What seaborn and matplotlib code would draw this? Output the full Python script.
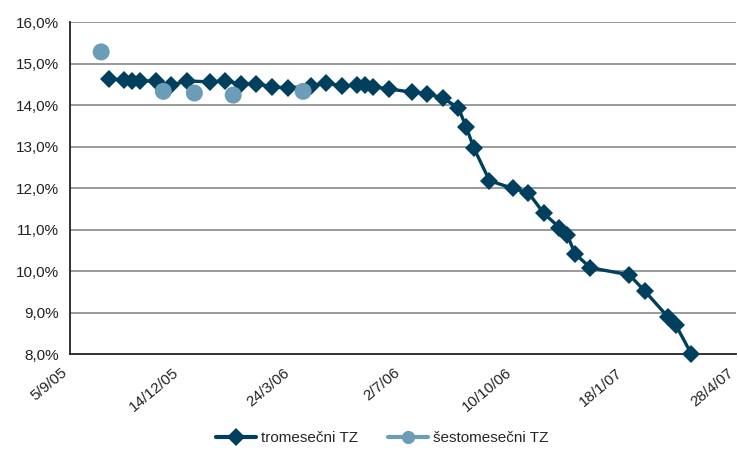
import matplotlib
matplotlib.use("Agg")
import matplotlib.pyplot as plt
from matplotlib.lines import Line2D
import pandas as pd
import seaborn as sns

# Three-month T-bill yields (%)
tro_dates = [
    "2005-10-10", "2005-10-24", "2005-10-31", "2005-11-07", "2005-11-21",
    "2005-12-05", "2005-12-19", "2006-01-09", "2006-01-23", "2006-02-06",
    "2006-02-20", "2006-03-06", "2006-03-20", "2006-04-10", "2006-04-24",
    "2006-05-08", "2006-05-22", "2006-05-29", "2006-06-05", "2006-06-19",
    "2006-07-10", "2006-07-24", "2006-08-07", "2006-08-21", "2006-08-28",
    "2006-09-04", "2006-09-18", "2006-10-09", "2006-10-23", "2006-11-06",
    "2006-11-20", "2006-11-27", "2006-12-04", "2006-12-18", "2007-01-22",
    "2007-02-05", "2007-02-26", "2007-03-05", "2007-03-19",
]
tro_values = [
    14.63, 14.60, 14.58, 14.58, 14.58,
    14.48, 14.58, 14.56, 14.58, 14.51,
    14.51, 14.44, 14.41, 14.46, 14.53,
    14.46, 14.48, 14.48, 14.44, 14.39,
    14.31, 14.27, 14.17, 13.93, 13.47,
    12.96, 12.18, 11.99, 11.89, 11.39,
    11.05, 10.88, 10.42, 10.08, 9.91,
    9.52, 8.89, 8.70, 8.00,
]

# Six-month T-bill yields (%)
sest_dates = ["2005-10-03", "2005-11-28", "2005-12-26", "2006-01-30", "2006-04-03"]
sest_values = [15.28, 14.33, 14.29, 14.24, 14.33]

# Axis ticks
x_ticks = ["2005-09-05", "2005-12-14", "2006-03-24", "2006-07-02",
           "2006-10-10", "2007-01-18", "2007-04-28"]
x_tick_labels = ["5/9/05", "14/12/05", "24/3/06", "2/7/06",
                 "10/10/06", "18/1/07", "28/4/07"]
y_ticks = [8, 9, 10, 11, 12, 13, 14, 15, 16]
y_tick_labels = ["8,0%", "9,0%", "10,0%", "11,0%", "12,0%",
                 "13,0%", "14,0%", "15,0%", "16,0%"]

series_names = ["tromesečni TZ", "šestomesečni TZ"]
dark = "#003f5e"
light = "#6b9db8"

sns.set_theme(style="white")
plt.rcParams["font.family"] = ["Liberation Sans", "DejaVu Sans"]

df_tro = pd.DataFrame({"datum": pd.to_datetime(tro_dates), "stopa": tro_values})
df_sest = pd.DataFrame({"datum": pd.to_datetime(sest_dates), "stopa": sest_values})

fig = plt.figure(figsize=(7.38, 4.54), dpi=100)
ax = fig.add_axes([0.095, 0.22, 0.902, 0.7315])

for yv in y_ticks[1:]:
    ax.axhline(yv, color="#9a9a9a", lw=1.4, zorder=0)

sns.lineplot(data=df_tro, x="datum", y="stopa", ax=ax, color=dark, lw=2.4,
             marker="D", markersize=9.5, markeredgewidth=0, zorder=3,
             legend=False, clip_on=False)
sns.scatterplot(data=df_sest, x="datum", y="stopa", ax=ax, color=light,
                s=150, edgecolor="none", zorder=4, legend=False, clip_on=False)

ticks_dt = pd.to_datetime(x_ticks)
ax.set_xlim(ticks_dt[0], ticks_dt[-1])
ax.set_xticks(ticks_dt)
# slanted date labels whose lower right corner sits under the tick
ax.set_xticklabels(x_tick_labels, rotation=40, ha="right", va="bottom",
                   rotation_mode="anchor", fontsize=11, color="#222222")
ax.set_ylim(8, 16)
ax.set_yticks(y_ticks)
ax.set_yticklabels(y_tick_labels, fontsize=11, color="#222222")
ax.set_xlabel("")
ax.set_ylabel("")

for side in ["top", "right"]:
    ax.spines[side].set_visible(False)
for side in ["left", "bottom"]:
    ax.spines[side].set_color("#222222")
    ax.spines[side].set_linewidth(1.3)
ax.tick_params(axis="y", direction="out", length=5, width=1.2, color="#222222", pad=3)
ax.tick_params(axis="x", direction="inout", length=6, width=1.2, color="#222222", pad=13)

handles = [
    Line2D([], [], color=dark, lw=3, marker="D", markersize=9.5, markeredgewidth=0),
    Line2D([], [], color=light, lw=3, marker="o", markersize=9.5, markeredgewidth=0),
]
fig.legend(handles, series_names, loc="center", bbox_to_anchor=(0.518, 0.035),
           ncol=2, frameon=False, fontsize=11, handlelength=2.6,
           handletextpad=0.3, columnspacing=2.0)

fig.savefig("out.png", dpi=100)
